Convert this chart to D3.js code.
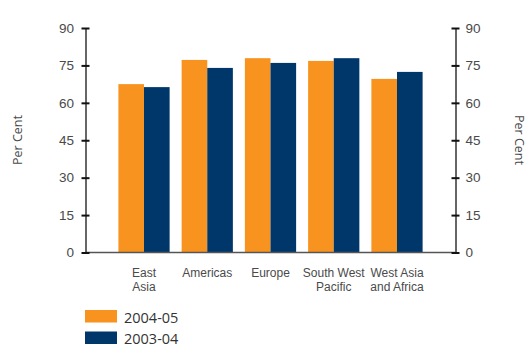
<!DOCTYPE html>
<html>
<head>
<meta charset="utf-8">
<script src="https://cdn.jsdelivr.net/npm/d3@7"></script>
<style>
  html, body { margin: 0; padding: 0; background: #fff; }
  svg { display: block; font-family: "Open Sans", "Noto Sans", sans-serif; }
</style>
</head>
<body>
<svg id="chart" width="530" height="349"></svg>
<script>
const categories = [["East", "Asia"], ["Americas"], ["Europe"], ["South West", "Pacific"], ["West Asia", "and Africa"]];
const seriesNames = ["2004-05", "2003-04"];
const values2004_05 = [67.5, 77.2, 77.9, 76.8, 69.6];
const values2003_04 = [66.3, 74.0, 76.0, 77.9, 72.4];
const tickValues = [0, 15, 30, 45, 60, 75, 90];
const colors = ["#F7931E", "#00376B"];

(function () {
const svg = d3.select("#chart");
const mLeft = 85.5, mRight = 455.5, mTop = 28, mBottom = 252.5;

const catKeys = categories.map(c => c.join(" "));
const x = d3.scaleBand().domain(catKeys).range([mLeft, mRight]).paddingInner(0.19).paddingOuter(0.52);
const x1 = d3.scaleBand().domain(seriesNames).range([0, x.bandwidth()]).padding(0);
const y = d3.scaleLinear().domain([0, 90]).range([mBottom, mTop]);
const color = d3.scaleOrdinal().domain(seriesNames).range(colors);

const data = catKeys.map((k, i) => ({key: k, vals: [
  {s: seriesNames[0], v: values2004_05[i]},
  {s: seriesNames[1], v: values2003_04[i]}
]}));

// bars
const g = svg.append("g");
g.selectAll("g.cat").data(data).join("g")
  .attr("class", "cat")
  .attr("transform", d => `translate(${x(d.key)},0)`)
  .selectAll("rect").data(d => d.vals).join("rect")
  .attr("x", d => x1(d.s))
  .attr("width", x1.bandwidth())
  .attr("y", d => y(d.v))
  .attr("height", d => y(0) - y(d.v))
  .attr("fill", d => color(d.s));

// baseline
svg.append("line")
  .attr("x1", mLeft).attr("x2", mRight)
  .attr("y1", y(0)).attr("y2", y(0))
  .attr("stroke", "#555").attr("stroke-width", 1.5);

function styleAxis(ax, side) {
  ax.select(".domain").attr("stroke", "#333").attr("stroke-width", 1.5);
  ax.selectAll(".tick line").attr("stroke", "#111").attr("stroke-width", 2)
    .attr("x1", side === "left" ? 4 : -4);
  ax.selectAll(".tick text").attr("fill", "#4a4a4a").attr("font-size", 13.5);
}

const axL = svg.append("g").attr("transform", `translate(${mLeft},0)`)
  .call(d3.axisLeft(y).tickValues(tickValues).tickSize(4).tickPadding(7.5).tickSizeOuter(0));
styleAxis(axL, "left");

const axR = svg.append("g").attr("transform", `translate(${mRight},0)`)
  .call(d3.axisRight(y).tickValues(tickValues).tickSize(4).tickPadding(6).tickSizeOuter(0));
styleAxis(axR, "right");

// category labels
const xa = svg.append("g").attr("transform", `translate(0,${y(0)})`)
  .call(d3.axisBottom(x).tickSize(0).tickPadding(0));
xa.select(".domain").remove();
xa.selectAll(".tick text").each(function(d, i) {
  const t = d3.select(this);
  t.text(null).attr("y", 0).attr("dy", null).attr("fill", "#4a4a4a").attr("font-size", 12);
  categories[i].forEach((line, j) => {
    t.append("tspan").attr("x", 0).attr("y", 24.5 + j * 13.5).text(line);
  });
});

// axis titles
svg.append("text").attr("transform", `translate(22,140) rotate(-90)`)
  .attr("text-anchor", "middle").attr("fill", "#4a4a4a").attr("font-size", 12.5).text("Per Cent");
svg.append("text").attr("transform", `translate(515,140) rotate(90)`)
  .attr("text-anchor", "middle").attr("fill", "#4a4a4a").attr("font-size", 12.5).text("Per Cent");

// legend
const lg = svg.append("g").attr("transform", "translate(85,310)");
const li = lg.selectAll("g").data(seriesNames).join("g")
  .attr("transform", (d, i) => `translate(0,${i * 21.5})`);
li.append("rect").attr("width", 32).attr("height", 12.5).attr("fill", d => color(d));
li.append("text").attr("x", 39).attr("y", 12.5).attr("font-size", 14.5).attr("fill", "#333").text(d => d);
})();
</script>
</body>
</html>
